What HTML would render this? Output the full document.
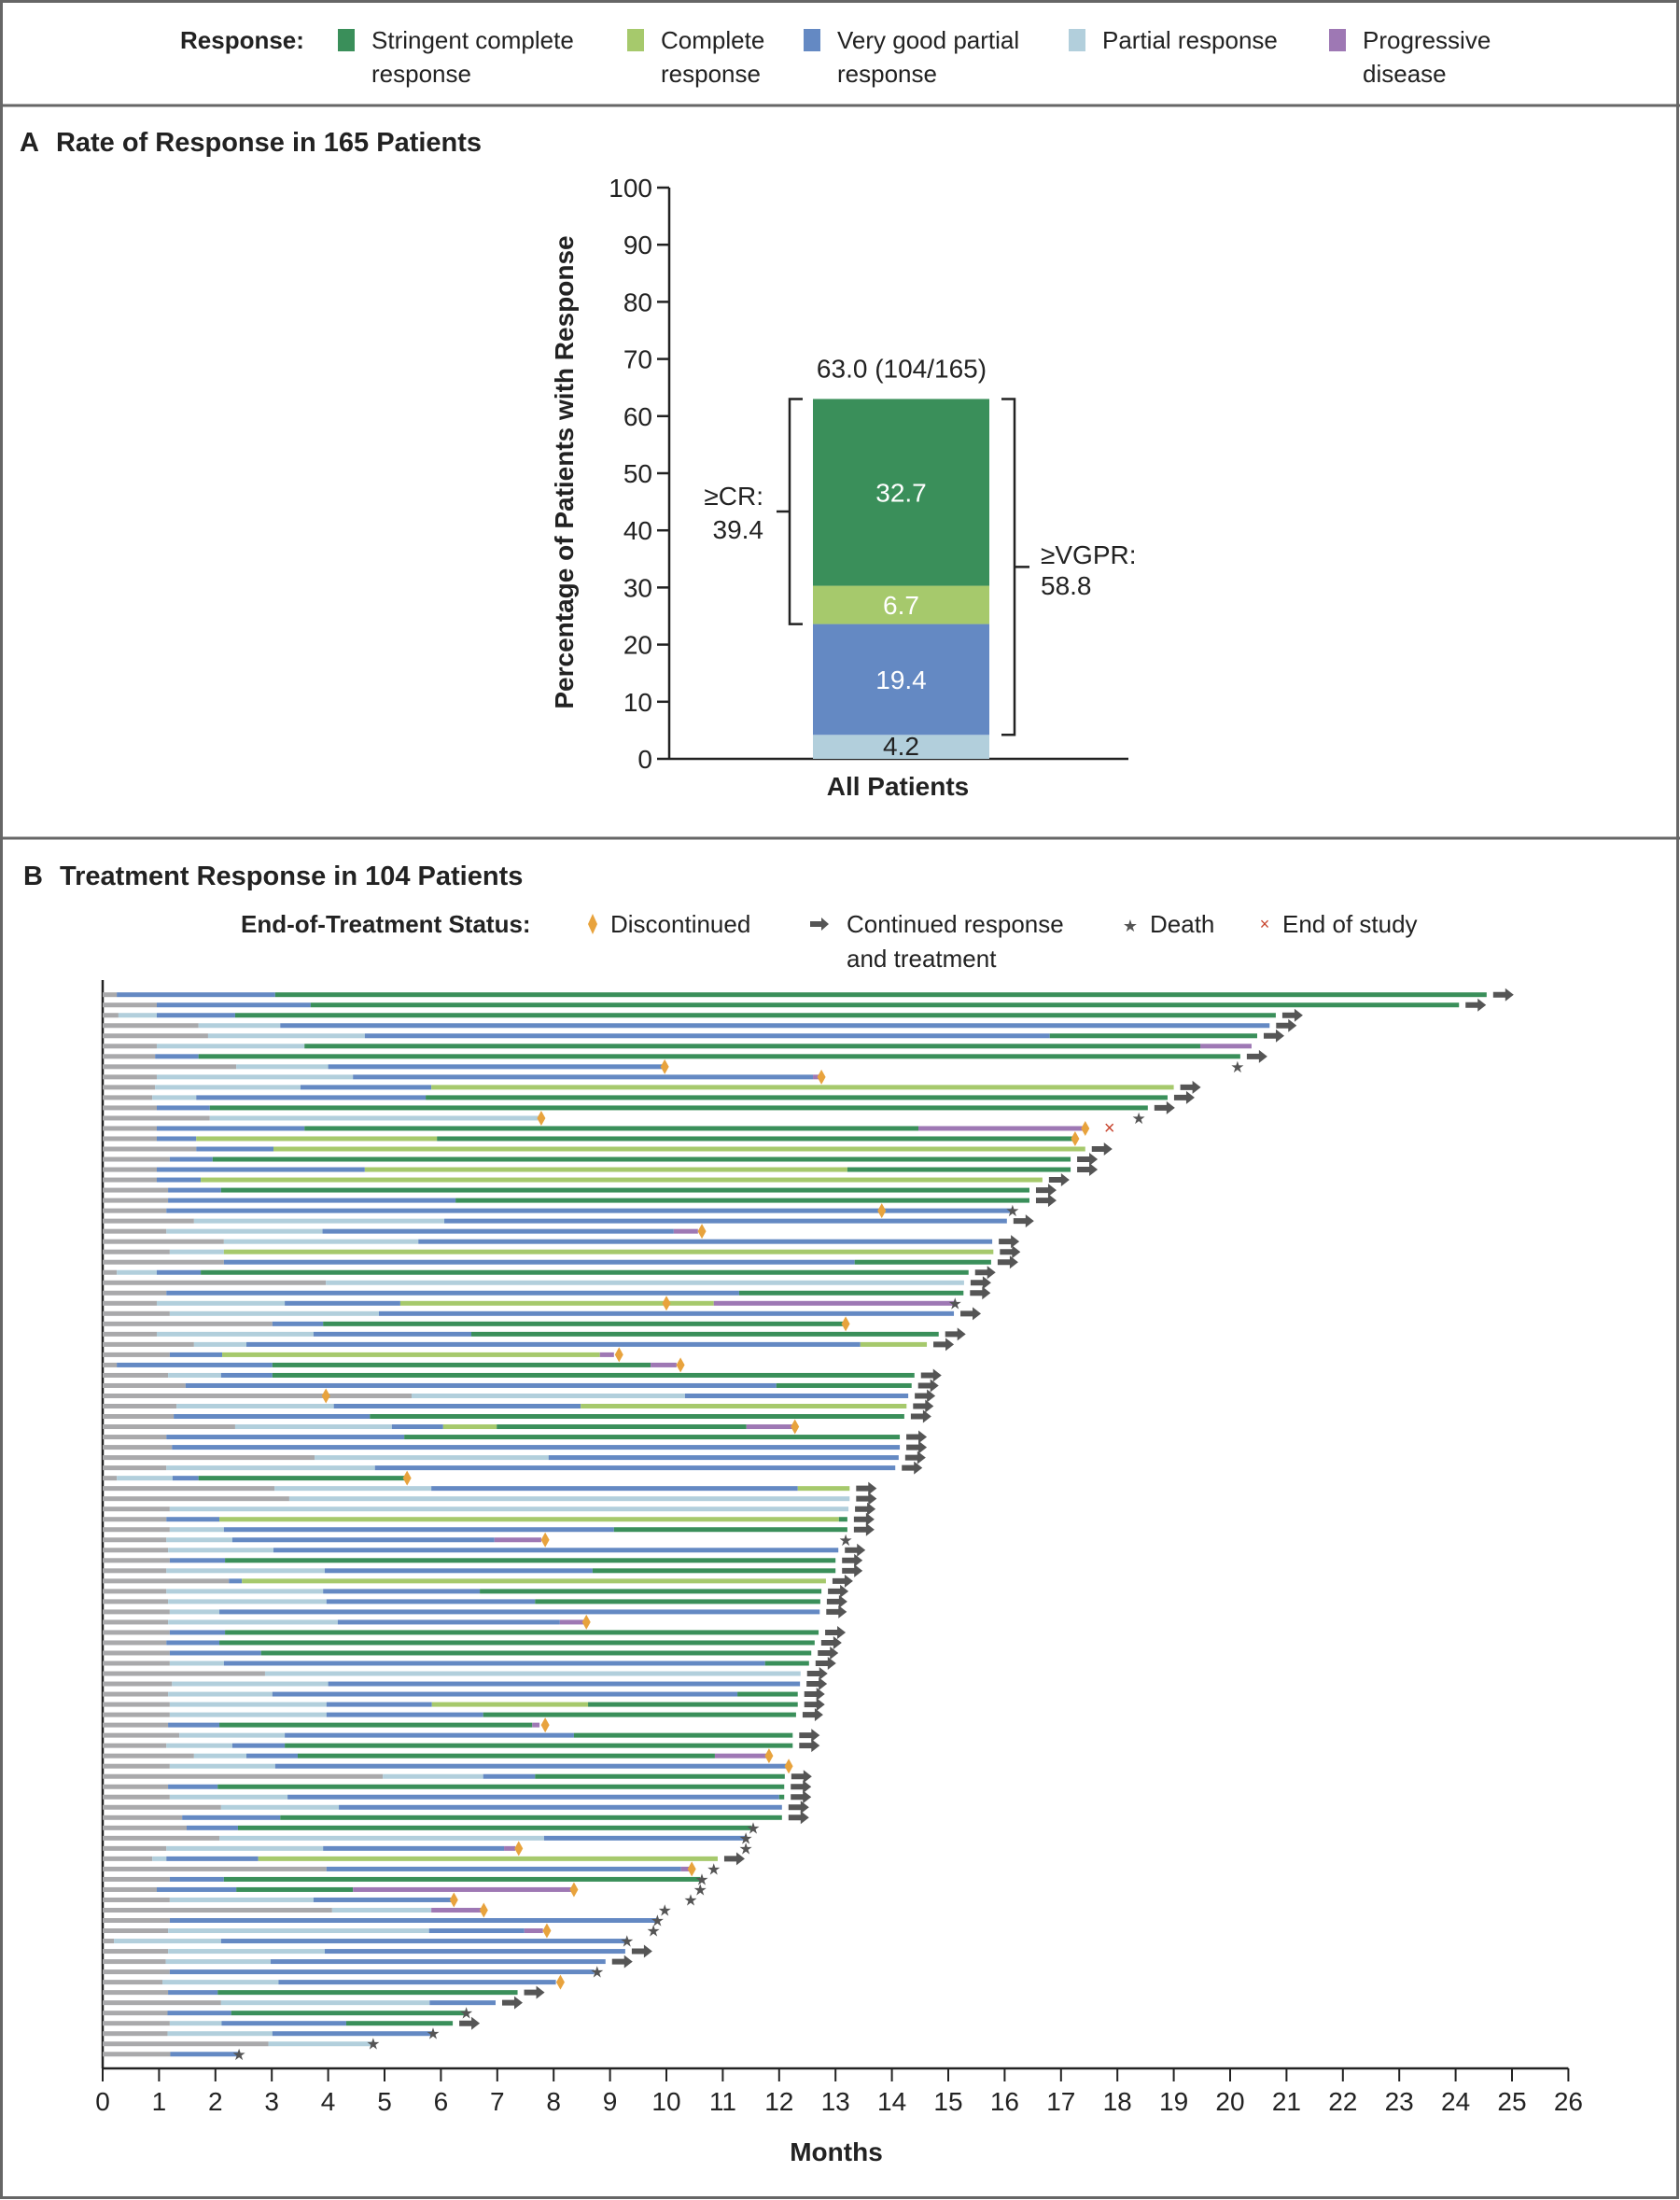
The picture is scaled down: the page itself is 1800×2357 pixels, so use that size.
<!DOCTYPE html>
<html><head><meta charset="utf-8"><style>
html,body{margin:0;padding:0;background:#fff;}
svg{display:block;font-family:"Liberation Sans",sans-serif;}
</style></head><body>
<svg id="fig" width="1800" height="2357" viewBox="0 0 1800 2357" xmlns="http://www.w3.org/2000/svg">
<rect x="1.5" y="1.5" width="1796" height="2353" fill="#fff" stroke="#666" stroke-width="3"/>
<line x1="0" y1="113" x2="1800" y2="113" stroke="#666" stroke-width="3"/>
<line x1="0" y1="898" x2="1800" y2="898" stroke="#666" stroke-width="3"/>
<g id="topLegend" font-size="26" fill="#222">
<text x="193" y="52" font-weight="bold">Response:</text>
</g>
<g>
<text x="21" y="162" font-size="29" font-weight="bold" fill="#222">A<tspan dx="18">Rate of Response in 165 Patients</tspan></text>
<g id="chartA"></g>
</g>
<g>
<text x="25" y="948" font-size="29" font-weight="bold" fill="#222">B<tspan dx="18">Treatment Response in 104 Patients</tspan></text>
<g id="legendB" font-size="26" fill="#222">
<text x="258" y="999" font-weight="bold">End-of-Treatment Status:</text>
<polygon points="635,979 640,990 635,1001 630,990" fill="#e8a33d"/>
<text x="654" y="999">Discontinued</text>
<polygon points="868,987 880,987 880,983 888,990 880,997 880,993 868,993" fill="#555"/>
<text x="907" y="999">Continued response</text>
<text x="907" y="1036">and treatment</text>
<text x="1211" y="998" font-size="18" text-anchor="middle" fill="#555">★</text>
<text x="1232" y="999">Death</text>
<text x="1355" y="996" font-size="18" text-anchor="middle" fill="#c8452e">×</text>
<text x="1374" y="999">End of study</text>
</g>
<g id="chartB"></g>
</g>
</svg>
<script>
// ---- shared ----
const stateColor = {G:"#a9a9ab",P:"#b2cfdc",V:"#6489c3",C:"#a6c96c",S:"#3a8f5a",D:"#9e78b4"};
const legendLabels1 = ["Stringent complete","Complete","Very good partial","Partial response","Progressive"];
const legendLabels2 = ["response","response","response","","disease"];
const legendStates = ["S","C","V","P","D"];
// ---- panel A data ----
const barCategories = ["All Patients"];
const barSegLabels = ["Partial response","Very good partial response","Complete response","Stringent complete response"];
const barValues = [4.2,19.4,6.7,32.7];
const barStates = ["P","V","C","S"];
const yTicksA = [0,10,20,30,40,50,60,70,80,90,100];
const totalLabel = "63.0 (104/165)";
const crLabel = ["≥CR:","39.4"];
const vgprLabel = ["≥VGPR:","58.8"];
// ---- panel B data ----
const segStates = ["GVS","GVS","GPVS","GPV","GPVS","GPSD","GVS","GPV","GPVD","GPVC",
"GPVS","GVS","GP","GVSD","GVCS","GVC","GVS","GVCS","GVC","GVS",
"GVS","GV","GPV","GPVD","GPV","GPC","GVS","GPVS","GP","GVS",
"GPVCD","GPV","GVS","GPVS","GPVC","GVCD","GVSD","GPVS","GVS","GPV",
"GPVC","GVS","GPVCSD","GVS","GV","GPV","GPV","GPVS","GPVC","GP",
"GP","GVCS","GPVS","GPVD","GPV","GVS","GPVS","GVC","GPVS","GPVS",
"GPV","GPVD","GVS","GVS","GVS","GPVS","GP","GPV","GPVS","GPVCS",
"GPVS","GVSD","GPVS","GPVS","GPVSD","GPV","GPVS","GVS","GPVS","GPV",
"GVS","GVS","GPV","GPVD","GPVC","GVD","GVS","GVSD","GPV","GPD",
"GV","GPVD","GPV","GPV","GPV","GV","GPV","GVS","GPV","GVS",
"GPVS","GPV","GP","GV"];
const segEnds = [[.25,3.06,24.55],[.96,3.69,24.06],[.28,.96,2.35,20.81],[1.7,3.15,20.7],[1.87,4.65,16.8,20.48],[.96,3.58,19.47,20.38],[.93,1.7,20.18],[2.37,4.0,9.97],[.96,4.44,12.6,12.75],[.93,3.51,5.83,19.0],
[.88,1.66,5.73,18.89],[.96,1.9,18.54],[1.9,7.78],[.96,3.58,14.47,17.38],[.96,1.66,5.93,17.22],[1.66,3.03,17.43],[1.19,1.95,17.17],[.96,4.65,13.21,17.17],[.96,1.74,16.67],[1.16,2.1,16.44],
[1.16,6.26,16.44],[1.13,16.14],[1.62,6.06,16.04],[1.13,3.9,10.13,10.56],[2.15,5.6,15.78],[1.19,2.15,15.8],[2.15,13.34,15.76],[.25,.96,1.74,15.36],[3.96,15.28],[1.13,11.29,15.27],
[.96,3.23,5.28,10.84,15.1],[1.19,4.9,15.1],[3.01,3.91,13.13],[.96,3.74,6.54,14.83],[1.62,2.55,13.44,14.62],[1.19,2.12,8.82,9.07],[.25,3.01,9.72,10.18],[1.16,2.1,3.01,14.4],[1.47,11.95,14.35],[5.48,10.33,14.29],
[1.31,4.1,8.48,14.26],[1.26,4.74,14.22],[2.35,5.13,6.04,6.99,11.42,12.25],[1.13,5.35,14.14],[1.23,14.14],[3.76,7.91,14.12],[1.13,4.83,14.06],[.25,1.24,1.7,5.35],[3.05,5.83,12.33,13.25],[3.31,13.25],
[1.19,13.23],[1.13,2.07,13.06,13.21],[1.19,2.15,9.07,13.21],[1.13,2.3,6.95,7.78],[1.16,3.03,13.05],[1.19,2.17,13.0],[1.13,3.94,8.69,13.0],[2.24,2.47,12.83],[1.13,3.91,6.69,12.75],[1.16,3.97,7.67,12.73],
[1.19,2.07,12.72],[1.16,4.17,8.11,8.53],[1.19,2.17,12.7],[1.13,2.07,12.63],[1.19,2.81,12.57],[1.19,2.15,11.75,12.53],[2.88,12.38],[1.23,4.0,12.37],[1.16,3.01,11.26,12.33],[1.19,3.97,5.84,8.61,12.33],
[1.19,3.97,6.75,12.3],[1.16,2.07,7.62,7.75],[1.36,3.23,8.36,12.24],[1.13,2.3,3.23,12.24],[1.62,2.55,3.46,10.86,11.79],[1.19,3.06,12.14],[4.97,6.75,7.67,12.1],[1.16,2.04,12.09],[1.19,3.28,12.0,12.09],[2.1,4.19,12.05],
[1.41,3.15,12.05],[1.49,2.4,11.51],[2.07,7.83,11.39],[1.13,3.91,7.12,7.32],[.88,1.13,2.76,10.91],[3.97,10.26,10.4],[1.19,2.15,10.6],[.96,2.37,4.44,8.31],[1.19,3.74,6.18],[4.07,5.83,6.71],
[1.19,9.82],[1.16,5.79,7.48,7.81],[.2,2.1,9.29],[1.16,3.94,9.27],[1.12,2.98,8.92],[1.19,8.72],[1.06,3.12,8.04],[1.16,2.04,7.36],[2.1,5.8,6.97],[1.15,2.28,6.43],
[1.19,2.11,4.32,6.21],[1.15,3.01,5.84],[2.94,4.78],[1.2,2.41]];
const markTypes = ["a","a","a","a","a","","a","ds","d","a",
"a","a","ds","dx","d","a","a","a","a","a",
"a","ds","a","d","a","a","a","a","a","a",
"ds","a","d","a","a","d","d","a","a","da",
"a","a","d","a","a","a","a","d","a","a",
"a","a","a","ds","a","a","a","a","a","a",
"a","d","a","a","a","a","a","a","a","a",
"a","d","a","a","d","d","a","a","a","a",
"a","s","s","ds","a","ds","s","ds","ds","ds",
"s","ds","s","a","a","s","d","a","a","s",
"a","s","s","s"];
const markPos = [[24.55],[24.06],[20.81],[20.7],[20.48],[],[20.18],[9.97,20.13],[12.75],[19.0],
[18.89],[18.54],[7.78,18.38],[17.43,17.86],[17.25],[17.43],[17.17],[17.17],[16.67],[16.44],
[16.44],[13.82,16.14],[16.04],[10.63],[15.78],[15.8],[15.76],[15.36],[15.28],[15.27],
[10.0,15.12],[15.1],[13.18],[14.83],[14.62],[9.16],[10.25],[14.4],[14.35],[3.96,14.29],
[14.26],[14.22],[12.28],[14.14],[14.14],[14.12],[14.06],[5.4],[13.25],[13.25],
[13.23],[13.21],[13.21],[7.85,13.18],[13.05],[13.0],[13.0],[12.83],[12.75],[12.73],
[12.72],[8.58],[12.7],[12.63],[12.57],[12.53],[12.38],[12.37],[12.33],[12.33],
[12.3],[7.85],[12.24],[12.24],[11.82],[12.17],[12.1],[12.09],[12.09],[12.05],
[12.05],[11.54],[11.41],[7.38,11.41],[10.91],[10.45,10.84],[10.63],[8.36,10.6],[6.23,10.43],[6.76,9.97],
[9.84],[7.88,9.77],[9.3],[9.27],[8.92],[8.77],[8.12],[7.36],[6.97],[6.45],
[6.21],[5.86],[4.8],[2.42]];
const xTicksB = [0,1,2,3,4,5,6,7,8,9,10,11,12,13,14,15,16,17,18,19,20,21,22,23,24,25,26];

(function(){
const NS = "http://www.w3.org/2000/svg";
function mk(parent, tag, attrs, txt){
  const e = document.createElementNS(NS, tag);
  for (const k in attrs) e.setAttribute(k, attrs[k]);
  if (txt !== undefined) e.textContent = txt;
  parent.appendChild(e);
  return e;
}

// ---- top legend ----
const tl = document.getElementById("topLegend");
const legX = [362,672,861,1145,1424];
legendStates.forEach((s,i)=>{
  const r = mk(tl,"rect",{x:legX[i],y:31,width:18,height:24,fill:stateColor[s]});
  
  
  const t = mk(tl,"text",{x:legX[i]+36,y:52},legendLabels1[i]);
  
  
  if (legendLabels2[i]) {
    const t2 = mk(tl,"text",{x:legX[i]+36,y:88},legendLabels2[i]);
    
    
  }
});

// ---- panel A ----
const A = document.getElementById("chartA");
const ax0 = 717, ay0 = 813, ayTop = 201;
const yA = v => ay0 - (v/100)*(ay0-ayTop);
const axisY = mk(A,"line",{x1:ax0,y1:ayTop,x2:ax0,y2:ay0,stroke:"#222","stroke-width":2.5});


const axisX = mk(A,"line",{x1:ax0,y1:ay0,x2:1209,y2:ay0,stroke:"#222","stroke-width":2.5});


yTicksA.forEach(v=>{
  const tk = mk(A,"line",{x1:ax0-13,y1:yA(v),x2:ax0,y2:yA(v),stroke:"#222","stroke-width":2.5});
  
  
  const tx = mk(A,"text",{x:ax0-18,y:yA(v)+10,"text-anchor":"end","font-size":28,fill:"#222"},String(v));
  
  
});
const yt = mk(A,"text",{x:0,y:0,"text-anchor":"middle","font-size":28,"font-weight":"bold",fill:"#222",transform:"translate(614,506) rotate(-90)"},"Percentage of Patients with Response");


const bx0 = 871, bx1 = 1060;
let cum = 0; const cumAt = [];
barValues.forEach((v,i)=>{
  const r = mk(A,"rect",{x:bx0,y:yA(cum+v),width:bx1-bx0,height:yA(cum)-yA(cum+v),fill:stateColor[barStates[i]]});
  
  
  const mid = (yA(cum)+yA(cum+v))/2;
  const lab = mk(A,"text",{x:(bx0+bx1)/2,y:i===0?yA(cum)-4:mid+10,"text-anchor":"middle","font-size":28,fill:i===0?"#222":"#fff"},v.toFixed(1));
  
  
  cumAt.push(cum);
  cum += v;
});
const tot = mk(A,"text",{x:966,y:yA(cum)-23,"text-anchor":"middle","font-size":28,fill:"#222"},totalLabel);


const crBottom = yA(cumAt[2]), barTopY = yA(cum), vgBottom = yA(cumAt[1]);
const lb = mk(A,"path",{d:`M860 ${barTopY} H846 V${crBottom} H860 M846 ${(barTopY+crBottom)/2} H832`,fill:"none",stroke:"#222","stroke-width":2.5});


const rb = mk(A,"path",{d:`M1073 ${barTopY} H1087 V${vgBottom} H1073 M1087 ${(barTopY+vgBottom)/2} H1103`,fill:"none",stroke:"#222","stroke-width":2.5});


const cl1 = mk(A,"text",{x:818,y:541,"text-anchor":"end","font-size":28,fill:"#222"},crLabel[0]);


const cl2 = mk(A,"text",{x:818,y:577,"text-anchor":"end","font-size":28,fill:"#222"},crLabel[1]);


const vl1 = mk(A,"text",{x:1115,y:604,"font-size":28,fill:"#222"},vgprLabel[0]);


const vl2 = mk(A,"text",{x:1115,y:637,"font-size":28,fill:"#222"},vgprLabel[1]);


const xc = mk(A,"text",{x:962,y:852,"text-anchor":"middle","font-size":28,"font-weight":"bold",fill:"#222"},barCategories[0]);



// ---- panel B ----
const B = document.getElementById("chartB");
const bxo = 110, pxm = 60.4, ry0 = 1065.7, rdy = 11.02, axB = 2216;
const xB = m => bxo + m*pxm;
const rowY = i => ry0 + i*rdy;
const yAxB = mk(B,"line",{x1:bxo,y1:1050,x2:bxo,y2:axB,stroke:"#222","stroke-width":2.5});


const xAxB = mk(B,"line",{x1:bxo,y1:axB,x2:xB(26),y2:axB,stroke:"#222","stroke-width":2.5});


xTicksB.forEach(m=>{
  const tk = mk(B,"line",{x1:xB(m),y1:axB,x2:xB(m),y2:axB+14,stroke:"#222","stroke-width":2});
  
  
  const tx = mk(B,"text",{x:xB(m),y:2261,"text-anchor":"middle","font-size":28,fill:"#222"},String(m));
  
  
});
const mt = mk(B,"text",{x:896,y:2315,"text-anchor":"middle","font-size":28,"font-weight":"bold",fill:"#222"},"Months");



segStates.forEach((st,i)=>{
  const y = rowY(i);
  const g = mk(B,"g",{});
  
  
  let start = 0;
  st.split("").forEach((s,j)=>{
    const end = segEnds[i][j];
    const r = mk(g,"rect",{x:xB(start),y:y-2.5,width:Math.max(0.5,xB(end)-xB(start)),height:5,fill:stateColor[s]});
    
    
    start = end;
  });
  markTypes[i].split("").forEach((t,k)=>{
    const x = xB(markPos[i][k]);
    let m;
    if (t==="a") {
      m = mk(g,"polygon",{points:`${x+7},${y-3} ${x+20},${y-3} ${x+20},${y-7} ${x+29},${y} ${x+20},${y+7} ${x+20},${y+3} ${x+7},${y+3}`,fill:"#555"});
      
    } else if (t==="d") {
      m = mk(g,"polygon",{points:`${x},${y-8} ${x+4.5},${y} ${x},${y+8} ${x-4.5},${y}`,fill:"#e8a33d"});
      
    } else if (t==="s") {
      m = mk(g,"text",{x:x,y:y+6,"text-anchor":"middle","font-size":17,fill:"#555"},"★");
      
    } else {
      m = mk(g,"text",{x:x,y:y+6,"text-anchor":"middle","font-size":20,fill:"#c8452e"},"×");
      
    }
    
  });
});
})();
</script>
</body></html>
